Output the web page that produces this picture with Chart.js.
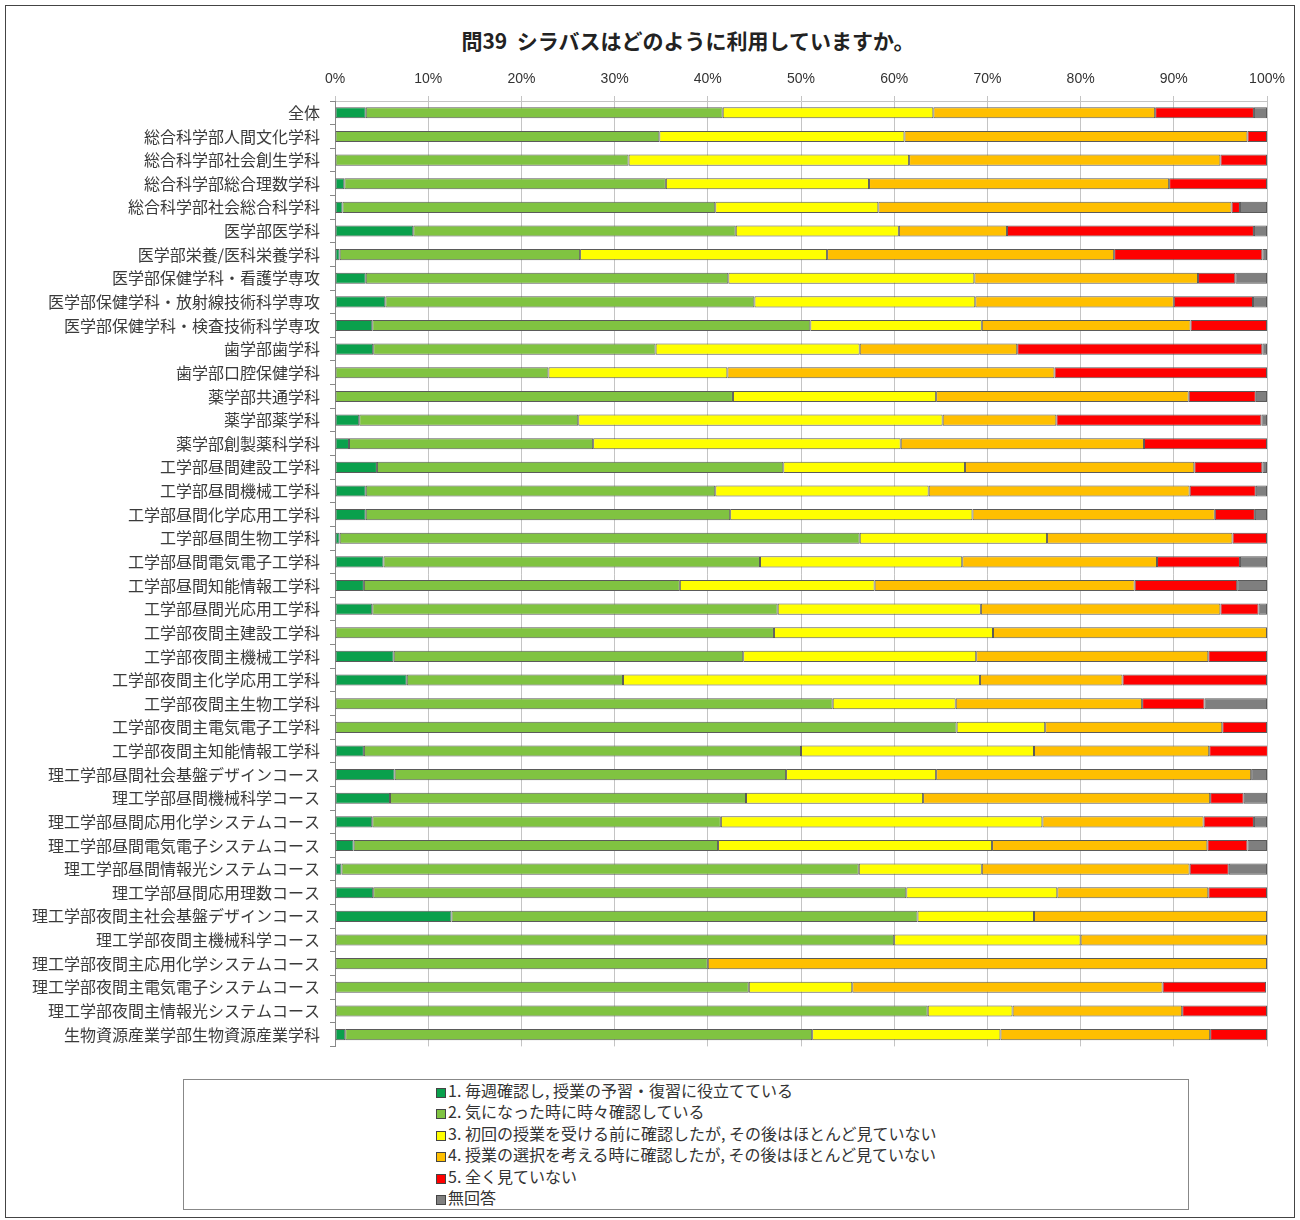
<!DOCTYPE html>
<html lang="ja">
<head>
<meta charset="utf-8">
<script src="https://cdn.jsdelivr.net/npm/chart.js@4.4.1/dist/chart.umd.min.js"></script>
<style>
  body { margin: 0; background: #fff; font-family: "Noto Sans CJK JP", sans-serif; }
  #page { position: relative; width: 1300px; height: 1220px; }
  #frame { position: absolute; left: 5px; top: 5px; width: 1288px; height: 1211px; border: 1px solid #444; }
  #title { position: absolute; left: 388px; width: 600px; top: 25px; text-align: center;
           font-size: 21px; font-weight: bold; color: #222; white-space: pre; }
  #wrap { position: absolute; left: 0; top: 0; width: 1300px; height: 1066px; }
  #legend { position: absolute; left: 183px; top: 1079px; width: 1006px; height: 131px;
            border: 1px solid #888; box-sizing: border-box; background: #fff; }
  #legend ul { list-style: none; margin: 0; padding: 0 0 0 252px; }
  #legend li { font-size: 16px; line-height: 21.4px; color: #333; white-space: nowrap; }
  #legend li span { display: inline-block; width: 8px; height: 8px; border: 1px solid #444;
                    margin-right: 2px; vertical-align: -1px; }
</style>
</head>
<body>
<div id="page">
  <div id="frame"></div>
  <div id="title">問39  シラバスはどのように利用していますか。</div>
  <div id="wrap"><canvas id="myChart"></canvas></div>
  <div id="legend"><ul id="legendList"></ul></div>
</div>
<script>
// 学科ごとの回答割合 (%)
const categories = [
  '全体', '総合科学部人間文化学科', '総合科学部社会創生学科', '総合科学部総合理数学科',
  '総合科学部社会総合科学科', '医学部医学科', '医学部栄養/医科栄養学科', '医学部保健学科・看護学専攻',
  '医学部保健学科・放射線技術科学専攻', '医学部保健学科・検査技術科学専攻', '歯学部歯学科', '歯学部口腔保健学科',
  '薬学部共通学科', '薬学部薬学科', '薬学部創製薬科学科', '工学部昼間建設工学科',
  '工学部昼間機械工学科', '工学部昼間化学応用工学科', '工学部昼間生物工学科', '工学部昼間電気電子工学科',
  '工学部昼間知能情報工学科', '工学部昼間光応用工学科', '工学部夜間主建設工学科', '工学部夜間主機械工学科',
  '工学部夜間主化学応用工学科', '工学部夜間主生物工学科', '工学部夜間主電気電子工学科', '工学部夜間主知能情報工学科',
  '理工学部昼間社会基盤デザインコース', '理工学部昼間機械科学コース', '理工学部昼間応用化学システムコース', '理工学部昼間電気電子システムコース',
  '理工学部昼間情報光システムコース', '理工学部昼間応用理数コース', '理工学部夜間主社会基盤デザインコース', '理工学部夜間主機械科学コース',
  '理工学部夜間主応用化学システムコース', '理工学部夜間主電気電子システムコース', '理工学部夜間主情報光システムコース', '生物資源産業学部生物資源産業学科'
];

const seriesNames = [
  '1. 毎週確認し, 授業の予習・復習に役立てている',
  '2. 気になった時に時々確認している',
  '3. 初回の授業を受ける前に確認したが, その後はほとんど見ていない',
  '4. 授業の選択を考える時に確認したが, その後はほとんど見ていない',
  '5. 全く見ていない',
  '無回答'
];

const weekly = [3.3,0,0,1.0,0.8,8.4,0.5,3.3,5.4,4.0,4.1,0,0,2.6,1.5,4.5,3.3,3.3,0.5,5.2,3.1,4.0,0,6.3,7.7,0,0,3.1,6.4,5.9,4.0,2.0,0.7,4.1,12.5,0,0,0,0,1.1];
const sometimes = [38.3,34.8,31.5,34.5,40.0,34.6,25.8,38.9,39.6,47.0,30.3,22.9,42.7,23.5,26.2,43.6,37.5,39.1,55.8,40.4,33.9,43.5,47.1,37.5,23.2,53.4,66.7,46.9,42.0,38.2,37.4,39.1,55.5,57.2,50.0,60.0,40.0,44.4,63.6,50.1];
const firstOnly = [22.6,26.3,30.1,21.8,17.5,17.5,26.5,26.4,23.7,18.4,21.9,19.2,21.8,39.1,33.0,19.5,22.9,26.0,20.1,21.7,20.9,21.8,23.5,25.0,38.3,13.2,9.5,25.0,16.1,19.0,34.5,29.4,13.2,16.2,12.5,20.0,0,11.1,9.1,20.2];
const selectOnly = [23.8,36.8,33.4,32.2,37.9,11.6,30.8,24.0,21.3,22.4,16.9,35.1,27.1,12.2,26.1,24.6,28.0,26.0,19.9,20.9,27.9,25.7,29.4,24.9,15.3,20.0,19.0,18.8,33.8,30.8,17.3,23.1,22.3,16.2,25.0,20.0,60.0,33.3,18.2,22.5];
const never = [10.6,2.1,5.0,10.5,0.9,26.5,15.9,4.0,8.5,8.2,26.3,22.8,7.2,22.0,13.2,7.3,7.1,4.3,3.7,8.9,11.0,4.1,0,6.3,15.5,6.7,4.8,6.3,0,3.6,5.4,4.3,4.2,6.3,0,0,0,11.1,9.1,6.1];
const noAnswer = [1.4,0,0,0,2.9,1.4,0.5,3.4,1.5,0,0.5,0,1.2,0.6,0,0.5,1.2,1.3,0,2.9,3.2,0.9,0,0,0,6.7,0,0,1.7,2.5,1.4,2.1,4.1,0,0,0,0,0,0,0];

const xTicks = [0, 10, 20, 30, 40, 50, 60, 70, 80, 90, 100];

const colors = ['#0aa04c', '#80c341', '#ffff00', '#ffbf00', '#ff0000', '#7f7f7f'];
const allSeries = [weekly, sometimes, firstOnly, selectOnly, never, noAnswer];

const datasets = allSeries.map((vals, i) => ({
  label: seriesNames[i],
  data: vals,
  backgroundColor: colors[i],
  borderColor: '#5a5a5a',
  borderWidth: 1,
  borderSkipped: false,
  barPercentage: 0.47,
  categoryPercentage: 1.0
}));

// HTML legend, one item per line
const list = document.getElementById('legendList');
seriesNames.forEach((name, i) => {
  const li = document.createElement('li');
  const box = document.createElement('span');
  box.style.background = colors[i];
  li.appendChild(box);
  li.appendChild(document.createTextNode(name));
  list.appendChild(li);
});

const ctx = document.getElementById('myChart').getContext('2d');
new Chart(ctx, {
  type: 'bar',
  data: { labels: categories, datasets: datasets },
  options: {
    indexAxis: 'y',
    responsive: true,
    maintainAspectRatio: false,
    animation: false,
    layout: { padding: { left: 10, right: 33, top: 52, bottom: 8 } },
    plugins: {
      legend: { display: false },
      title: { display: false },
      tooltip: { enabled: false }
    },
    scales: {
      x: {
        position: 'top',
        stacked: true,
        min: 0,
        max: 100,
        afterBuildTicks: scale => { scale.ticks = xTicks.map(v => ({ value: v })); },
        afterFit: scale => { scale.height = 49; },
        grid: { color: '#c4c4c4', tickLength: 5, drawTicks: true },
        border: { display: true, color: '#c4c4c4' },
        ticks: {
          callback: v => v + '%',
          padding: 8,
          color: '#333',
          font: { size: 14, family: '"Liberation Sans Narrow", "Liberation Sans", sans-serif' }
        }
      },
      y: {
        stacked: true,
        afterFit: scale => { scale.width = 325; },
        grid: { display: true, drawOnChartArea: false, offset: true, tickLength: 5, color: '#888' },
        border: { display: true, color: '#888' },
        ticks: {
          autoSkip: false,
          padding: 10,
          color: '#3a3a3a',
          font: { size: 16, family: '"Noto Sans CJK JP", sans-serif' }
        }
      }
    }
  }
});
</script>
</body>
</html>
